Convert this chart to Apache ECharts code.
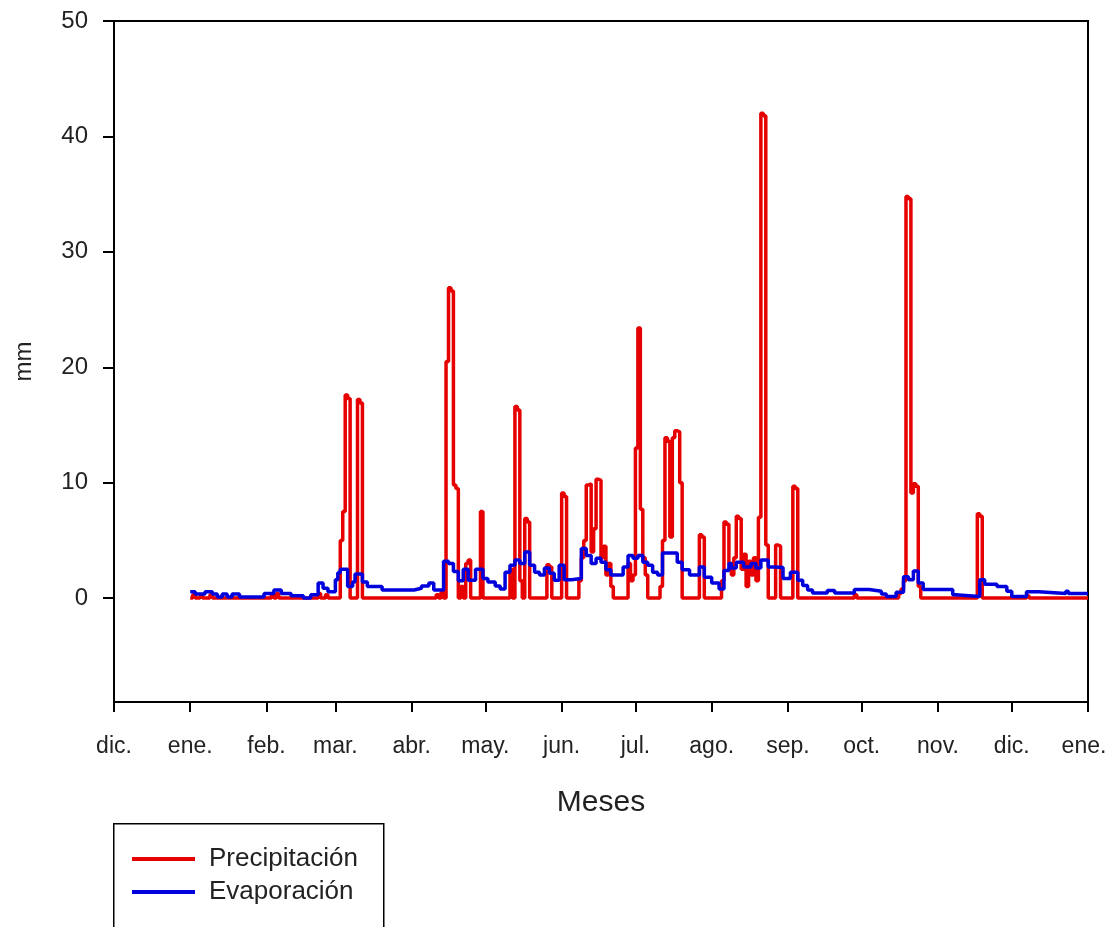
<!DOCTYPE html>
<html>
<head>
<meta charset="utf-8">
<script src="https://cdn.jsdelivr.net/npm/echarts@6/dist/echarts.min.js"></script>
<style>
  html, body { margin: 0; padding: 0; background: #fff; overflow: hidden; }
  #main { width: 1107px; height: 927px; }
</style>
</head>
<body>
<div id="main"></div>
<script>
// month ticks, counted in days from 1 January
var monthStarts = [-31, 0, 31, 59, 90, 120, 151, 181, 212, 243, 273, 304, 334, 365];
var monthNames = ['dic.', 'ene.', 'feb.', 'mar.', 'abr.', 'may.', 'jun.', 'jul.', 'ago.', 'sep.', 'oct.', 'nov.', 'dic.', 'ene.'];
var yTicks = [0, 10, 20, 30, 40, 50];

// rainy days (day of year, from 0) and amount in mm; every other day is 0
var rainDays = [1, 4, 8, 33, 35, 52, 55,
  61, 62, 63, 64, 68, 69, 100, 102,
  104, 105, 106, 107, 108, 110, 112, 113, 118,
  130, 132, 133, 134, 136, 137, 145, 146, 151, 152,
  158, 159, 160, 161, 162, 163, 164, 165, 166, 167, 168, 169, 170, 171,
  178, 179, 180, 181, 182, 183, 184, 185,
  191, 192, 193, 194, 195, 196, 197, 198, 199, 207, 208,
  216, 217, 218, 219, 220, 221, 222, 223, 224, 225, 226, 227, 228, 229, 230, 231, 232, 233, 234, 238, 239,
  245, 246, 270, 288, 289, 290, 291, 292, 293, 294, 295, 296, 320, 321, 340];
var rainMm = [0.3, 0.2, 0.3, 0.3, 0.4, 0.4, 0.3,
  5.0, 7.5, 17.6, 17.3, 17.2, 16.9, 0.3, 0.5,
  20.5, 26.9, 26.6, 9.8, 9.5, 1.0, 3.0, 3.3, 7.5,
  2.5, 16.6, 16.3, 1.5, 6.9, 6.6, 2.9, 2.7, 9.1, 8.8,
  1.5, 3.5, 5.0, 9.8, 9.9, 4.0, 6.0, 10.3, 10.2, 3.5, 4.5, 2.0, 3.0, 1.0,
  3.0, 1.5, 2.0, 13.0, 23.4, 7.7, 3.5, 2.0,
  1.0, 5.0, 13.9, 13.6, 5.3, 13.9, 14.5, 14.4, 10.0, 5.5, 5.3,
  1.5, 6.6, 6.4, 3.0, 2.0, 3.5, 7.1, 6.9, 2.5, 3.8, 1.0, 3.2, 2.0, 3.5, 1.5, 7.0, 42.0, 41.8, 4.6, 4.6, 4.5,
  9.7, 9.5, 0.3, 0.4, 0.8, 1.5, 34.8, 34.6, 9.1, 9.9, 9.7, 1.0, 7.3, 7.1, 0.2];

// evaporation: day where the value changes, and the new value (mm)
var evapDays = [0, 2, 6, 9, 11, 13, 15, 17, 20, 30, 34, 37, 41, 46, 49, 52, 54, 56,
  59, 60, 61, 64, 66, 67, 70, 72, 78, 91, 94, 97, 99,
  103, 105, 107, 109, 111, 113, 116, 119, 121, 124, 126, 128, 130, 132, 134, 136, 138,
  140, 142, 144, 146, 148, 150, 152, 155, 159, 161, 163, 165, 167, 169, 171, 176, 178,
  180, 182, 184, 186, 188, 190, 192, 198, 200, 203, 207, 209, 212, 215, 217, 219, 220,
  222, 225, 228, 230, 232, 235, 238, 241, 244, 247, 249, 251, 253, 259, 262, 270, 276,
  281, 283, 287, 290, 292, 294, 296, 298, 310, 311, 321, 323, 328, 332, 334, 340, 345,
  356, 357, 365];
var evapMm = [0.55, 0.35, 0.55, 0.35, 0.1, 0.35, 0.1, 0.35, 0.1, 0.4, 0.7, 0.4, 0.2, 0.0, 0.3, 1.3, 0.85, 0.55,
  1.6, 2.2, 2.5, 1.0, 1.4, 2.1, 1.4, 1.0, 0.7, 0.85, 1.05, 1.3, 0.7,
  3.2, 3.0, 2.3, 1.5, 2.5, 1.55, 2.5, 1.7, 1.4, 1.05, 0.8, 2.25, 2.85, 3.3, 3.0, 4.0, 2.85,
  2.25, 2.0, 2.6, 2.15, 1.55, 2.85, 1.6, 1.7, 4.3, 3.7, 3.0, 3.45, 3.1, 2.45, 2.0, 2.7, 3.7,
  3.45, 3.7, 3.1, 2.85, 2.25, 2.0, 3.9, 3.1, 2.45, 2.0, 2.7, 1.8, 1.3, 0.8, 2.4, 3.0, 2.6,
  3.1, 2.7, 3.0, 2.6, 3.3, 2.7, 2.65, 1.7, 2.25, 1.55, 1.1, 0.7, 0.45, 0.65, 0.45, 0.75, 0.6,
  0.35, 0.15, 0.5, 1.85, 1.6, 2.35, 1.3, 0.75, 0.3, 0.15, 1.6, 1.2, 1.0, 0.6, 0.15, 0.55, 0.4,
  0.6, 0.4, 0.4];

// daily precipitation series (0 on days without rain)
var precipData = [];
for (var d = 0; d <= 365; d++) {
  var k = rainDays.indexOf(d);
  precipData.push([d, k >= 0 ? rainMm[k] : 0]);
}
var evapData = evapDays.map(function (d, i) { return [d, evapMm[i]]; });

var chartDom = document.getElementById('main');
var myChart = echarts.init(chartDom);
var option;

var font = 'Liberation Sans, Arial, sans-serif';

option = {
  animation: false,
  backgroundColor: '#fff',
  textStyle: { fontFamily: font },
  grid: {
    left: 114, right: 19, top: 21, bottom: 225,
    outerBoundsMode: 'none',
    show: true, borderColor: '#000', borderWidth: 2
  },
  // frame of the legend (runs past the bottom edge, as in the original)
  graphic: [{
    type: 'rect',
    left: 113, top: 823,
    shape: { width: 270, height: 140 },
    style: { fill: '#fff', stroke: '#000', lineWidth: 1.5 }
  }],
  legend: {
    orient: 'vertical',
    left: 132, top: 846,
    padding: 0,
    itemWidth: 63, itemHeight: 4, itemGap: 7,
    icon: 'rect',
    textStyle: { fontSize: 26, color: '#222', fontFamily: font, padding: [0, 0, 0, 9] },
    data: ['Precipitación', 'Evaporación']
  },
  xAxis: {
    type: 'value',
    min: -31, max: 365,
    name: 'Meses',
    nameLocation: 'middle',
    nameGap: 86,
    nameTextStyle: { fontSize: 30, color: '#222' },
    axisLine: { onZero: false, lineStyle: { color: '#000', width: 2 } },
    axisTick: { show: true, length: 10, customValues: monthStarts, lineStyle: { color: '#000', width: 2 } },
    axisLabel: {
      customValues: monthStarts,
      margin: 33,
      fontSize: 23, color: '#222',
      formatter: function (v) {
        var i = monthStarts.indexOf(v);
        // last label nudged left so it stays inside the picture
        return i === monthStarts.length - 1 ? '{last|' + monthNames[i] + '}' : monthNames[i];
      },
      rich: { last: { fontSize: 23, color: '#222', padding: [0, 8, 0, 0] } }
    },
    splitLine: { show: false }
  },
  yAxis: {
    type: 'value',
    min: -9, max: 50,
    name: 'mm',
    nameLocation: 'middle',
    nameGap: 78,
    nameTextStyle: { fontSize: 24, color: '#222' },
    axisLine: { show: true, onZero: false, lineStyle: { color: '#000', width: 2 } },
    axisTick: { show: true, length: 11, customValues: yTicks, lineStyle: { color: '#000', width: 2 } },
    axisLabel: { customValues: yTicks, margin: 26, fontSize: 24, color: '#222' },
    splitLine: { show: false }
  },
  series: [
    {
      name: 'Precipitación',
      type: 'line',
      step: 'end',
      symbol: 'none',
      color: '#e60000',
      lineStyle: { color: '#e60000', width: 3.5 },
      data: precipData
    },
    {
      name: 'Evaporación',
      type: 'line',
      step: 'end',
      symbol: 'none',
      color: '#0000dd',
      lineStyle: { color: '#0000dd', width: 3.5 },
      data: evapData
    }
  ]
};

if (chartDom && myChart) {
  myChart.setOption(option);
} else {
  console.error('Failed to initialize the chart');
}
</script>
</body>
</html>
